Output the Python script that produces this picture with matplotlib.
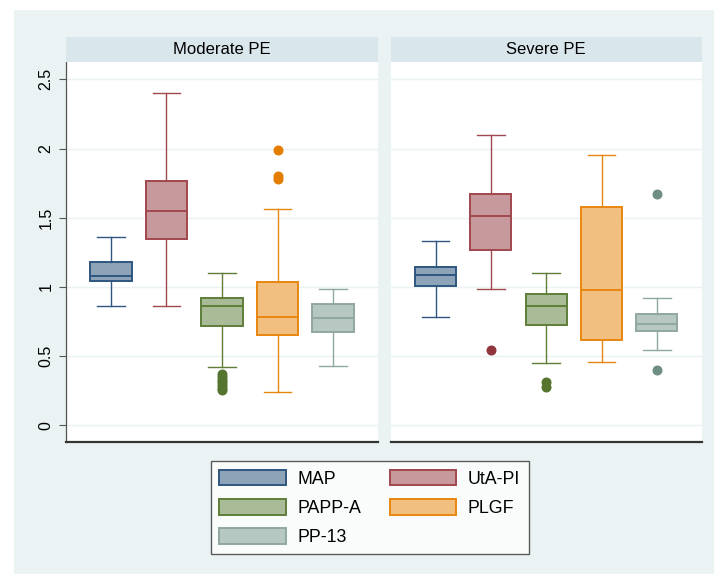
import matplotlib
matplotlib.use("Agg")
import matplotlib.pyplot as plt
from matplotlib.patches import Patch, Rectangle

plt.rcParams['font.family'] = ['Liberation Sans', 'DejaVu Sans']

# Gruplar ve paneller
groups = ["MAP", "UtA-PI", "PAPP-A", "PLGF", "PP-13"]
panels = ["Moderate PE", "Severe PE"]

# Moderate PE kutu istatistikleri
mod_lo = [0.864, 0.864, 0.423, 0.243, 0.431]
mod_q1 = [1.043, 1.344, 0.717, 0.652, 0.674]
mod_med = [1.079, 1.548, 0.860, 0.785, 0.773]
mod_q3 = [1.182, 1.765, 0.920, 1.038, 0.879]
mod_hi = [1.358, 2.403, 1.098, 1.561, 0.987]
mod_out = [[], [], [0.37, 0.35, 0.33, 0.31, 0.29, 0.27, 0.255], [1.99, 1.80, 1.78], []]

# Severe PE kutu istatistikleri
sev_lo = [0.785, 0.987, 0.452, 0.460, 0.542]
sev_q1 = [1.007, 1.267, 0.725, 0.616, 0.684]
sev_med = [1.084, 1.510, 0.860, 0.978, 0.732]
sev_q3 = [1.146, 1.669, 0.951, 1.575, 0.804]
sev_hi = [1.329, 2.098, 1.098, 1.951, 0.922]
sev_out = [[], [0.542], [0.31, 0.28], [], [1.671, 0.400]]

yticks = [0, 0.5, 1, 1.5, 2, 2.5]
ytick_labels = ["0", "0.5", "1", "1.5", "2", "2.5"]

# Renkler (Stata s2color)
line_colors = ["#1A476F", "#90353B", "#55752F", "#E37E00", "#6E8E84"]
fill_colors = ["#8DA4B8", "#C8999C", "#AABB97", "#F1BF80", "#B7C7C2"]
edge_colors = ["#2E5680", "#A0484E", "#5E7E38", "#E8870F", "#8FA8A0"]
outer_bg = "#EAF2F3"
strip_bg = "#D9E6EB"

W, H = 714, 574
fig = plt.figure(figsize=(W / 100, H / 100), dpi=100)
fig.patch.set_facecolor("white")
fig.add_artist(Rectangle((14 / W, 0), 1, (H - 10) / H, transform=fig.transFigure,
                         facecolor=outer_bg, edgecolor="none", zorder=-10))

panel_x = [(66, 378), (390.7, 701.7)]
plot_top, plot_bot = 62, 441.7
strip_top = 37.3

data = [
    (mod_lo, mod_q1, mod_med, mod_q3, mod_hi, mod_out),
    (sev_lo, sev_q1, sev_med, sev_q3, sev_hi, sev_out),
]

for p, (x0, x1) in enumerate(panel_x):
    ax = fig.add_axes([x0 / W, (H - plot_bot) / H, (x1 - x0) / W, (plot_bot - plot_top) / H])
    lo, q1, med, q3, hi, out = data[p]
    for i in range(len(groups)):
        st = [{"med": med[i], "q1": q1[i], "q3": q3[i], "whislo": lo[i],
               "whishi": hi[i], "fliers": out[i]}]
        ax.bxp(st, positions=[i + 1], widths=0.74, capwidths=0.5, patch_artist=True,
               boxprops=dict(facecolor=fill_colors[i], edgecolor=edge_colors[i], linewidth=1.4),
               medianprops=dict(color=edge_colors[i], linewidth=1.4),
               whiskerprops=dict(color=edge_colors[i], linewidth=1.0),
               capprops=dict(color=edge_colors[i], linewidth=1.0),
               flierprops=dict(marker="o", markerfacecolor=line_colors[i],
                               markeredgecolor=line_colors[i], markersize=6.2))
    ax.set_xlim(0.19, 5.81)
    ax.set_ylim(-0.118, 2.625)
    ax.set_xticks([])
    ax.set_yticks(yticks)
    ax.yaxis.grid(True, color=outer_bg, linewidth=1.0)
    ax.set_axisbelow(True)
    ax.set_facecolor("white")
    for s in ["top", "right"]:
        ax.spines[s].set_visible(False)
    ax.spines["bottom"].set_color("#333333")
    ax.spines["bottom"].set_linewidth(1.6)
    if p == 0:
        ax.set_yticklabels(ytick_labels, rotation=90, va="center", fontsize=11.5)
        ax.spines["left"].set_color("#555555")
        ax.spines["left"].set_linewidth(0.9)
        ax.tick_params(axis="y", length=5, width=0.8, color="#555555", pad=4)
    else:
        ax.spines["left"].set_visible(False)
        ax.tick_params(axis="y", length=0, labelleft=False)

    # Panel başlığı
    sax = fig.add_axes([x0 / W, (H - plot_top) / H, (x1 - x0) / W, (plot_top - strip_top) / H])
    sax.set_facecolor(strip_bg)
    sax.set_xticks([])
    sax.set_yticks([])
    for s in sax.spines.values():
        s.set_visible(False)
    sax.text(0.5, 0.5, panels[p], ha="center", va="center", fontsize=12,
             transform=sax.transAxes)

# Lejant
handles = [Patch(facecolor=fill_colors[i], edgecolor=edge_colors[i], linewidth=1.4,
                 label=groups[i]) for i in range(len(groups))]
order = [0, 2, 4, 1, 3]
leg = fig.legend([handles[i] for i in order], [groups[i] for i in order],
                 loc="upper left", bbox_to_anchor=(210.7 / W, 1 - 461 / H),
                 ncol=2, fontsize=12.8, frameon=True, fancybox=False,
                 handlelength=3.75, handleheight=1.0, handletextpad=0.65,
                 columnspacing=1.6, labelspacing=0.62, borderpad=0.48,
                 borderaxespad=0)
leg.get_frame().set_edgecolor("#333333")
leg.get_frame().set_linewidth(1.0)
leg.get_frame().set_facecolor("white")

fig.savefig("out.png", dpi=100)
